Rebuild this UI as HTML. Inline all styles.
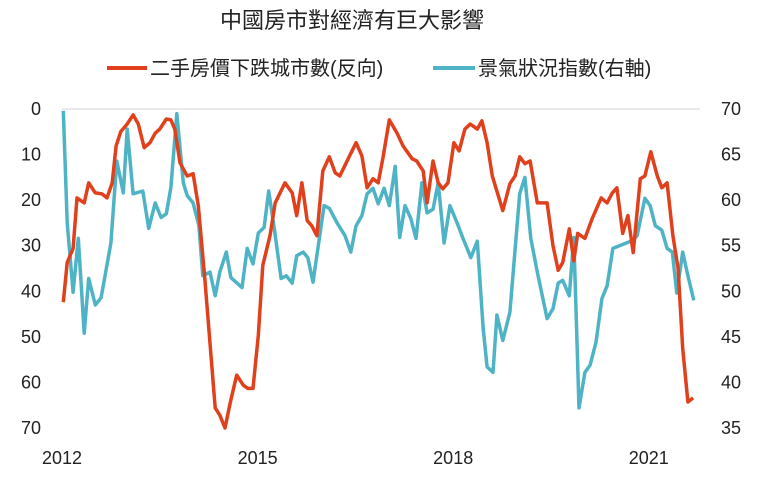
<!DOCTYPE html>
<html><head><meta charset="utf-8">
<style>
html,body{margin:0;padding:0;background:#fff;}
svg{display:block;font-family:"Liberation Sans","Noto Sans CJK TC",sans-serif;}
</style></head>
<body>
<svg id="chart" width="760" height="479" viewBox="0 0 760 479">
<text x="352" y="28" text-anchor="middle" font-size="22" fill="#222">中國房市對經濟有巨大影響</text>
<g>
<g>
<line x1="107" y1="68" x2="147" y2="68" stroke="#e0401c" stroke-width="4"/>
<text x="150" y="75" font-size="20" fill="#222">二手房價下跌城市數(反向)</text>
</g>
<g>
<line x1="433" y1="68" x2="475" y2="68" stroke="#4fb3c6" stroke-width="4"/>
<text x="478" y="75" font-size="20" fill="#222">景氣狀況指數(右軸)</text>
</g>
</g>
<line x1="62" y1="109" x2="700" y2="109" stroke="#e3e3e3" stroke-width="1.5"/>
<g id="axes"></g>
<g id="series"></g>
</svg>
<script>
const leftTicks=[0,10,20,30,40,50,60,70];
const rightTicks=[70,65,60,55,50,45,40,35];
const xTicks=[2012,2015,2018,2021];
const redDates=[2012.02,2012.08,2012.17,2012.23,2012.34,2012.41,2012.51,2012.61,2012.69,2012.77,2012.83,2012.90,2013.00,2013.09,2013.17,2013.26,2013.35,2013.43,2013.50,2013.60,2013.67,2013.73,2013.81,2013.92,2014.01,2014.09,2014.19,2014.35,2014.42,2014.50,2014.58,2014.68,2014.78,2014.85,2014.93,2015.01,2015.08,2015.19,2015.27,2015.42,2015.53,2015.60,2015.68,2015.76,2015.83,2015.91,2016.00,2016.10,2016.19,2016.26,2016.39,2016.51,2016.60,2016.68,2016.77,2016.85,2016.92,2017.02,2017.14,2017.23,2017.37,2017.44,2017.54,2017.60,2017.69,2017.77,2017.84,2017.92,2018.01,2018.09,2018.18,2018.26,2018.37,2018.44,2018.52,2018.60,2018.76,2018.87,2018.95,2019.02,2019.10,2019.18,2019.29,2019.44,2019.53,2019.61,2019.68,2019.78,2019.85,2019.91,2020.02,2020.13,2020.27,2020.36,2020.44,2020.51,2020.60,2020.68,2020.76,2020.87,2020.94,2021.03,2021.13,2021.20,2021.28,2021.37,2021.45,2021.52,2021.60,2021.68];
const redValues=[42.4,33.7,30.6,19.5,20.6,16.2,18.4,18.6,19.5,16.2,8.1,5.0,3.3,1.3,3.3,8.5,7.4,5.3,4.4,2.2,2.4,4.4,11.8,14.7,14.2,21.2,37.2,65.6,67.2,70,64.5,58.4,60.6,61.3,61.3,49.7,34.3,27.8,20.6,16.2,18.4,23.4,16.2,24.5,25.6,27.8,13.6,10.5,14.0,14.7,10.9,7.4,10.3,17.3,15.3,16.2,10.9,2.4,5.3,8.1,10.9,11.4,13.6,20.6,11.4,16.2,17.5,16.2,7.4,9.2,4.4,3.3,4.4,2.6,7.4,14.7,22.3,16.4,14.7,10.5,12.0,11.4,20.6,20.6,30.0,35.4,33.7,26.3,33.3,27.3,28.4,24.1,19.5,20.6,18.4,17.3,27.3,23.4,31.5,15.3,14.7,9.4,14.7,17.3,16.2,27.8,35.0,52.5,64.3,63.4];
const blueDates=[2012.02,2012.08,2012.17,2012.25,2012.34,2012.41,2012.51,2012.60,2012.75,2012.84,2012.94,2013.00,2013.09,2013.24,2013.33,2013.43,2013.52,2013.60,2013.67,2013.76,2013.86,2013.92,2014.01,2014.10,2014.16,2014.27,2014.35,2014.42,2014.52,2014.59,2014.76,2014.84,2014.93,2015.01,2015.10,2015.17,2015.25,2015.36,2015.44,2015.53,2015.60,2015.70,2015.77,2015.85,2016.02,2016.10,2016.22,2016.34,2016.43,2016.51,2016.60,2016.68,2016.77,2016.85,2016.94,2017.02,2017.11,2017.18,2017.26,2017.35,2017.43,2017.52,2017.60,2017.69,2017.77,2017.86,2017.95,2018.06,2018.15,2018.27,2018.37,2018.46,2018.52,2018.61,2018.67,2018.76,2018.87,2019.02,2019.10,2019.19,2019.29,2019.44,2019.53,2019.61,2019.68,2019.78,2019.85,2019.93,2020.02,2020.10,2020.19,2020.28,2020.36,2020.45,2020.76,2020.82,2020.94,2021.02,2021.10,2021.20,2021.28,2021.36,2021.43,2021.52,2021.60,2021.69];
const blueValues=[69.8,57.5,49.9,55.8,45.4,51.4,48.5,49.3,55.3,64.3,60.8,67.8,60.7,61.0,56.9,59.7,58.1,58.5,61.4,69.5,61.9,60.5,59.7,57.2,51.7,52.1,49.5,52.1,54.3,51.5,50.4,54.7,53.0,56.4,57.0,61.0,57.2,51.4,51.7,50.9,53.9,54.3,53.7,51.0,59.4,59.1,57.5,56.1,54.3,57.2,58.3,60.7,61.3,59.6,61.3,59.4,63.7,55.9,59.4,58.0,55.8,61.9,58.6,59.0,61.9,55.3,59.4,57.5,55.8,53.7,55.5,45.9,41.7,41.1,47.4,44.6,47.7,60.7,62.5,55.8,52.1,47.0,48.1,50.9,51.2,49.5,55.9,37.2,41.1,41.9,44.4,49.2,50.6,54.7,55.6,56.1,60.2,59.4,57.2,56.7,54.7,54.3,49.8,54.3,51.7,49.0];

const NS='http://www.w3.org/2000/svg';
const X0=62,XPY=65.2,YTOP=109,YBOT=428;
function xs(d){return X0+(d-2012)*XPY;}
function yl(v){return YTOP+(v/70)*(YBOT-YTOP);}
function yr(v){return YTOP+((70-v)/35)*(YBOT-YTOP);}
const axes=document.getElementById('axes');
const series=document.getElementById('series');
function txt(x,y,s,anchor){const t=document.createElementNS(NS,'text');t.setAttribute('x',x);t.setAttribute('y',y);t.setAttribute('font-size','18');t.setAttribute('fill','#222');t.setAttribute('text-anchor',anchor);t.textContent=s;return t;}
leftTicks.forEach(v=>{const t=txt(41,yl(v)+6,String(v),'end');


axes.appendChild(t);});
rightTicks.forEach(v=>{const t=txt(721,yr(v)+6,String(v),'start');


axes.appendChild(t);});
xTicks.forEach(v=>{const t=txt(xs(v),464,String(v),'middle');


axes.appendChild(t);});
function line(dates,vals,yf,color,name){
const p=document.createElementNS(NS,'polyline');
p.setAttribute('points',dates.map((d,i)=>xs(d).toFixed(1)+','+yf(vals[i]).toFixed(1)).join(' '));
p.setAttribute('fill','none');p.setAttribute('stroke',color);p.setAttribute('stroke-width','3.5');p.setAttribute('stroke-linejoin','round');


series.appendChild(p);}
line(blueDates,blueValues,yr,'#4fb3c6','business-index-line');
line(redDates,redValues,yl,'#e0401c','price-drop-line');
</script>
</body></html>
